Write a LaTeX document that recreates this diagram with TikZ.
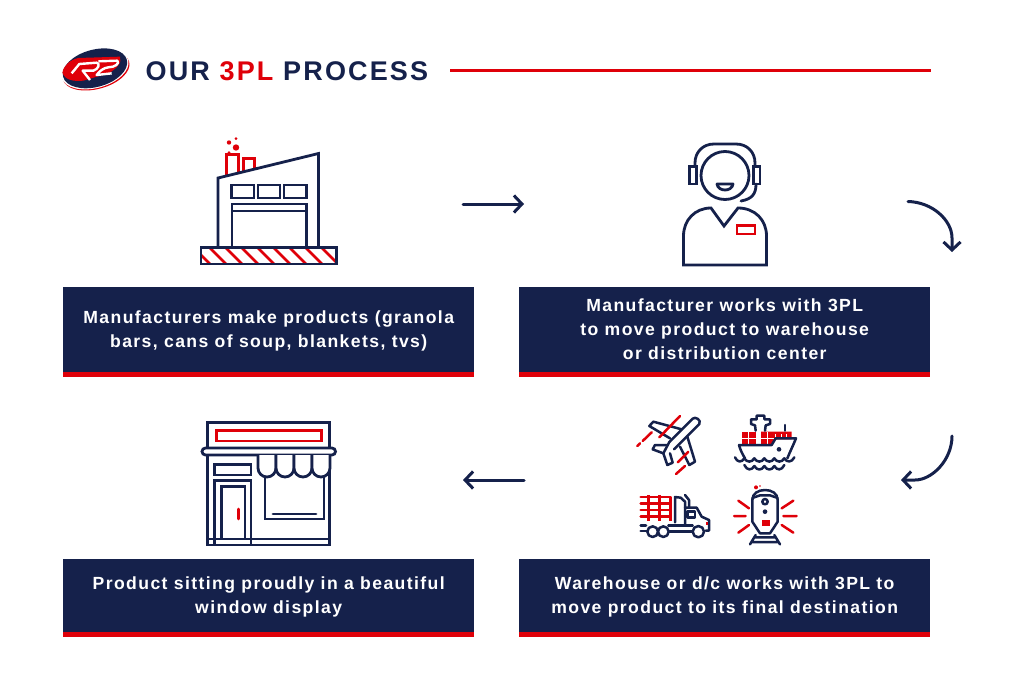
\documentclass[tikz,border=0pt]{standalone}
\usepackage{fontspec}
\setmainfont[LetterSpace=8]{Liberation Sans}
\usetikzlibrary{arrows.meta,bending}
\definecolor{navy}{HTML}{15214B}
\definecolor{rred}{HTML}{DF0009}
\tikzset{
 nv/.style={draw=navy,line width=2.8pt,line join=miter},
 rd/.style={draw=rred,line width=2.8pt},
 thin nv/.style={draw=navy,line width=2.5pt,line cap=round,line join=round},
 thin rd/.style={draw=rred,line width=2.5pt,line cap=round},
 caption/.style={fill=navy,text=white,minimum width=411pt,align=center,inner sep=0pt,font=\fontsize{17.6}{24}\selectfont\bfseries},
 bar/.style={fill=rred,minimum width=411pt,minimum height=5pt,inner sep=0pt},
 flow/.style={draw=navy,line width=3pt,line cap=round,-{Straight Barb[length=8pt,width=17pt,line width=3pt,flex=0]}},
 zoomed/.style={shift={#1},scale=1/3}
}
\begin{document}
\begin{tikzpicture}[x=1pt,y=-1pt]
\useasboundingbox (0,0) rectangle (1024,675);
\fill[white] (0,0) rectangle (1024,675);
% logo
\begin{scope}[zoomed={(40,30)}]
 \fill[rred] (168,122) ellipse [x radius=103,y radius=55,rotate=15];
 \fill[white] (165,117) ellipse [x radius=103,y radius=57,rotate=15];
 \fill[navy] (165,115) ellipse [x radius=99,y radius=56,rotate=15];
 \fill[rred] (67,128) .. controls (72,105) and (90,90) .. (115,84) -- (240,80) .. controls (248,97) and (228,118) .. (205,130) -- (130,152) .. controls (100,155) and (75,150) .. (67,128) -- cycle;
 \draw[white,line width=2.4pt,line join=round] (95,130) -- (118,102) -- (170,98) .. controls (182,100) and (175,118) .. (160,122) -- (128,122) -- (150,150);
 \draw[white,line width=2.4pt,line join=round] (175,94) -- (232,92) .. controls (240,100) and (225,112) .. (205,112) .. controls (190,114) and (180,122) .. (170,135) -- (215,130);
\end{scope}
% title
\node[anchor=west,inner sep=0pt,text=navy,font=\fontsize{27}{30}\selectfont\bfseries] (title) at (145.5,71) {OUR \textcolor{rred}{3PL} PROCESS};
\coordinate (ruleL) at (450,70.5);
\coordinate (ruleR) at (931,70.5);
\draw[rred,line width=3pt] (ruleL) -- (ruleR);
% captions
\node[caption,anchor=north west,minimum height=87pt] (c1) at (63,287) {Manufacturers make products (granola\\bars, cans of soup, blankets, tvs)};
\node[bar,anchor=north west] (b1) at (63,372) {};
\node[caption,anchor=north west,minimum height=85pt] (c2) at (519,287) {Manufacturer works with 3PL\\to move product to warehouse\\or distribution center};
\node[bar,anchor=north west] (b2) at (519,372) {};
\node[caption,anchor=north west,minimum height=75pt] (c3) at (63,559) {Product sitting proudly in a beautiful\\window display};
\node[bar,anchor=north west] (b3) at (63,632) {};
\node[caption,anchor=north west,minimum height=75pt] (c4) at (519,559) {Warehouse or d/c works with 3PL to\\move product to its final destination};
\node[bar,anchor=north west] (b4) at (519,632) {};
% arrows
\coordinate (a1s) at (463,204); \coordinate (a1e) at (524,204);
\draw[flow] (a1s) -- (a1e);
\coordinate (a2s) at (908,201.5); \coordinate (a2e) at (952,252);
\draw[flow] (a2s) .. controls (932,202) and (952,220) .. (952,238) -- (a2e);
\coordinate (a3s) at (952,436); \coordinate (a3e) at (901,480);
\draw[flow] (a3s) .. controls (952,460) and (932,480) .. (915,480) -- (a3e);
\coordinate (a4s) at (524,480); \coordinate (a4e) at (463,480);
\draw[flow] (a4s) -- (a4e);
% factory
\begin{scope}
 \clip (201,247) rectangle (337,264);
 \foreach \x in {190,206,...,350} \draw[rd] (\x,244) -- (\x+24,268);
\end{scope}
\draw[nv] (201,247.5) rectangle (336.5,264);
\draw[rd,line width=2.6pt] (226.5,176) -- (226.5,154.5) -- (238.5,154.5) -- (238.5,173);
\draw[rd,line width=2.6pt] (243.5,172) -- (243.5,158.5) -- (254.5,158.5) -- (254.5,169);
\fill[rred] (236,147.5) circle (3.2) (229,142.5) circle (2.2) (236,138.5) circle (1.5) (229,152.5) circle (1.5);
\draw[nv] (218,247) -- (218,178) -- (318.5,153.5) -- (318.5,247);
\draw[nv] (231.5,185) rectangle (254,198);
\draw[nv] (258,185) rectangle (280,198);
\draw[nv] (284,185) rectangle (306.5,198);
\draw[nv] (232,247) -- (232,204) -- (306.5,204) -- (306.5,247);
\draw[nv] (232,211) -- (306.5,211);
% person
\begin{scope}
 \draw[nv] (725,175.5) circle (24);
 \draw[nv] (695,167) -- (695,163) .. controls (695,152) and (703,144) .. (714,144) -- (736,144) .. controls (747,144) and (755,152) .. (755,163) -- (755,167);
 \draw[nv] (689.5,166.5) rectangle (696.5,184);
 \draw[nv] (753.5,166.5) rectangle (760,184);
 \draw[nv,line cap=round] (756,184) .. controls (756,194) and (752,199) .. (741,201);
 \draw[nv,line join=round] (717,184) -- (733,184) .. controls (732,192) and (718,192) .. (717,184) -- cycle;
 \draw[nv] (683.5,265) -- (683.5,236) .. controls (683.5,220) and (695,208) .. (711,208) -- (724,226) -- (738,208) .. controls (755,208) and (766.5,220) .. (766.5,236) -- (766.5,265) -- cycle;
 \draw[rd] (737,225.5) rectangle (755,234);
\end{scope}
% store
\draw[nv] (207.5,447) -- (207.5,422.5) -- (329.5,422.5) -- (329.5,447);
\draw[rd] (216.5,430.5) rectangle (321.5,441);
\draw[nv] (205.5,448) -- (332,448) arc [start angle=-90,end angle=90,radius=3.5] -- (205.5,455) arc [start angle=90,end angle=270,radius=3.5] -- cycle;
\draw[nv] (207.5,455) -- (207.5,545) -- (329.5,545) -- (329.5,455);
\draw[nv] (207.5,539) -- (329.5,539);
\draw[nv] (214.5,464.5) rectangle (251,475);
\draw[nv] (214.5,545) -- (214.5,480.5) -- (251,480.5) -- (251,545);
\draw[nv] (221.5,486.5) rectangle (245,539);
\draw[rd,line cap=round] (238.5,509) -- (238.5,519);
\draw[nv] (265,472) -- (265,519) -- (324,519) -- (324,472);
\draw[draw=navy,line width=2.8pt,line cap=round] (273,514) -- (316,514);
\foreach \x in {258,276,294,312}
 \draw[nv,fill=white] (\x,455) -- (\x,468) arc [start angle=180,end angle=0,radius=9] -- (\x+18,455);
% plane
\begin{scope}[zoomed={(630,410)}]
 \draw[thin nv] (118,96) -- (188,26) .. controls (195,18) and (215,30) .. (208,42) -- (132,118);
 \draw[thin nv] (155,58) -- (70,35) -- (58,48) -- (120,85);
 \draw[thin nv] (172,80) -- (195,155) -- (178,165) -- (150,110);
 \draw[thin nv] (110,105) -- (75,105) -- (68,118) -- (100,130) -- (112,165) -- (128,158) -- (120,130);
 \draw[thin nv] (100,130) -- (118,96);
 \draw[thin rd] (150,18) -- (88,82);
 \draw[thin rd] (65,67) -- (38,93);
 \draw[thin rd] (30,100) -- (22,108);
 \draw[thin rd] (175,125) -- (143,157);
 \draw[thin rd] (165,168) -- (138,192);
\end{scope}
% ship
\begin{scope}[zoomed={(725,410)}]
 \fill[rred] (50,65) rectangle (92,102);
 \fill[rred] (108,65) rectangle (200,88) (108,88) rectangle (146,102);
 \draw[white,line width=.7pt] (50,84) -- (92,84) (70,65) -- (70,102) (108,84) -- (146,84) (127,65) -- (127,102) (150,72) -- (150,88) (168,72) -- (168,88) (185,72) -- (185,88);
 \draw[thin nv] (92,62) -- (90,46) -- (78,42) -- (78,28) -- (95,28) -- (95,17) -- (118,17) -- (118,28) -- (135,28) -- (135,42) -- (122,46) -- (120,62);
 \draw[thin nv] (180,45) -- (180,62);
 \draw[thin nv] (42,105) -- (140,105) -- (152,85) -- (213,85) .. controls (205,105) and (195,125) .. (187,145);
 \draw[thin nv] (42,105) .. controls (46,120) and (52,132) .. (60,145);
 \fill[navy] (162,118) circle (7);
 \draw[thin nv] (30,142) .. controls (37,158) and (50,158) .. (58,145) .. controls (66,158) and (80,158) .. (88,145) .. controls (96,158) and (110,158) .. (118,145) .. controls (126,158) and (140,158) .. (148,145) .. controls (156,158) and (170,158) .. (178,145) .. controls (186,158) and (200,158) .. (208,142);
 \draw[thin nv] (58,165) .. controls (66,182) and (80,182) .. (88,168) .. controls (96,182) and (110,182) .. (118,168) .. controls (126,182) and (140,182) .. (148,168) .. controls (156,182) and (170,182) .. (178,165);
\end{scope}
% truck
\begin{scope}[zoomed={(630,485)}]
 \draw[thin rd] (32,36) -- (122,36) (32,55) -- (122,55) (32,75) -- (122,75) (32,95) -- (122,95);
 \draw[rred,line width=2.8pt] (55,30) -- (55,108) (88,30) -- (88,108) (122,36) -- (122,108);
 \draw[thin nv] (135,112) -- (135,36) -- (152,38) -- (165,50) -- (165,122);
 \draw[thin nv] (165,30) -- (177,45) -- (177,66);
 \draw[thin nv] (165,68) -- (200,68) -- (215,95) -- (237,105) -- (237,137) -- (227,137);
 \draw[thin nv] (172,80) rectangle (195,97);
 \draw[thin nv] (32,122) -- (48,122) (115,122) -- (188,122) (32,138) -- (50,138) (118,140) -- (188,140);
 \draw[thin nv] (68,140) circle (16);
 \draw[thin nv] (100,140) circle (16);
 \draw[thin nv] (205,140) circle (17);
 \fill[rred] (228,110) rectangle (233,120);
\end{scope}
% train
\begin{scope}[zoomed={(725,480)}]
 \fill[rred] (93,22) circle (6) (105,18) circle (2.5);
 \draw[thin rd] (40,62) -- (72,85) (27,108) -- (62,108) (40,158) -- (72,135) (205,62) -- (170,85) (215,108) -- (175,108) (205,158) -- (170,135);
 \draw[thin nv] (82,60) .. controls (82,40) and (100,30) .. (120,30) .. controls (140,30) and (158,40) .. (158,60) -- (158,125) -- (135,160) -- (105,160) -- (82,125) -- cycle;
 \draw[thin nv] (82,54) -- (105,46) -- (135,46) -- (158,54);
 \draw[thin nv] (120,65) circle (8);
 \fill[navy] (120,95) circle (7);
 \fill[rred] (110,120) rectangle (134,137);
 \draw[thin nv] (92,165) -- (75,193) (148,165) -- (165,193) (88,172) -- (152,172) (80,186) -- (160,186);
\end{scope}
\end{tikzpicture}
\end{document}
